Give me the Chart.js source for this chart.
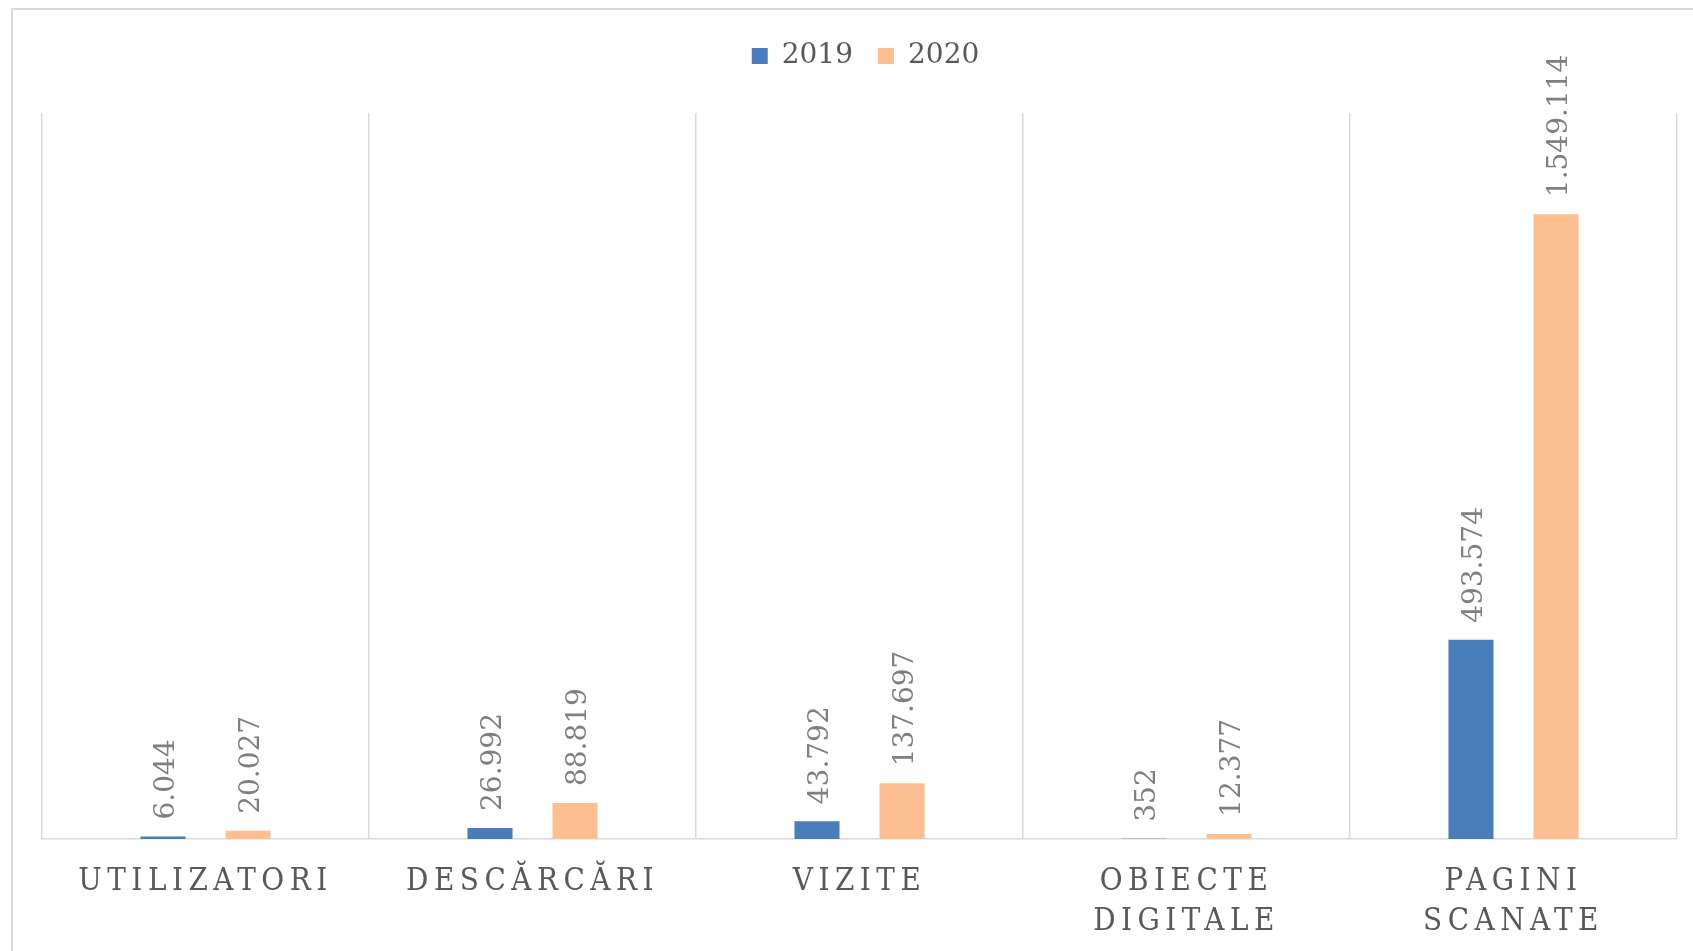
<!DOCTYPE html>
<html>
<head>
<meta charset="utf-8">
<script src="https://cdn.jsdelivr.net/npm/chart.js@4/dist/chart.umd.min.js"></script>
<style>
  html, body { margin: 0; padding: 0; background: #fff; overflow: hidden; }
  #frame {
    position: absolute; left: 11px; top: 8px;
    width: 1700px; height: 960px;
    border-left: 2px solid #d9d9d9; border-top: 2px solid #d9d9d9;
  }
  #wrap { position: absolute; left: 0; top: 0; width: 1680px; height: 961px; }
</style>
</head>
<body>
<div id="frame"><div id="wrap"><canvas id="chart"></canvas></div></div>
<script>
const categories = ['UTILIZATORI', 'DESCĂRCĂRI', 'VIZITE', ['OBIECTE', 'DIGITALE'], ['PAGINI', 'SCANATE']];
const values2019 = [6044, 26992, 43792, 352, 493574];
const values2020 = [20027, 88819, 137697, 12377, 1549114];
const seriesNames = ['2019', '2020'];

const fmt = v => v.toLocaleString('de-DE');

// rotated value labels above each bar
const barLabels = {
  id: 'barLabels',
  afterDatasetsDraw(chart) {
    const ctx = chart.ctx;
    ctx.save();
    ctx.font = '28px "DejaVu Serif"';
    ctx.fillStyle = '#7f7f7f';
    ctx.textAlign = 'left';
    ctx.textBaseline = 'middle';
    chart.data.datasets.forEach((ds, i) => {
      chart.getDatasetMeta(i).data.forEach((bar, j) => {
        ctx.save();
        ctx.translate(bar.x + 4, bar.y - 17);
        ctx.rotate(-Math.PI / 2);
        ctx.fillText(fmt(ds.data[j]), 0, 0);
        ctx.restore();
      });
    });
    ctx.restore();
  }
};

// spaced-out category labels on the x axis
const spacedTicks = {
  id: 'spacedTicks',
  beforeDraw(chart) {
    const s = chart.scales.x;
    if (s._spaced) return;
    const orig = s.drawLabels;
    s.drawLabels = function (area) {
      this.ctx.save();
      this.ctx.letterSpacing = '5.5px';
      orig.call(this, area);
      this.ctx.restore();
    };
    s._spaced = true;
  }
};

// extra gap between legend and plot, legend nudged right a little
const legendGap = {
  id: 'legendGap',
  beforeLayout(chart) {
    const lg = chart.legend;
    if (!lg || lg._gap) return;
    const fit = lg.fit;
    lg.fit = function () {
      fit.call(this);
      this.height += 33;
    };
    lg._gap = true;
  },
  afterLayout(chart) {
    const lg = chart.legend;
    if (!lg) return;
    lg.left += 6;
    lg.right += 6;
  }
};

new Chart(document.getElementById('chart'), {
  type: 'bar',
  data: {
    labels: categories,
    datasets: [
      { label: seriesNames[0], data: values2019, backgroundColor: '#4a7ebb' },
      { label: seriesNames[1], data: values2020, backgroundColor: '#fdbf8f' }
    ]
  },
  options: {
    responsive: true,
    maintainAspectRatio: false,
    animation: false,
    categoryPercentage: 0.52,
    barPercentage: 0.53,
    layout: { padding: { left: 29, right: 16, top: 7, bottom: 6 } },
    plugins: {
      tooltip: { enabled: false },
      legend: {
        position: 'top',
        labels: {
          boxWidth: 16, boxHeight: 16, padding: 25,
          color: '#595959',
          font: { family: 'DejaVu Serif', size: 28 }
        }
      }
    },
    scales: {
      x: {
        grid: { color: '#d9d9d9', lineWidth: 1.5, offset: true, drawTicks: false },
        border: { color: '#d9d9d9', width: 1.5 },
        ticks: {
          color: '#595959', padding: 24, maxRotation: 0, autoSkip: false,
          font: { family: 'DejaVu Serif Condensed', size: 31, lineHeight: 1.26 }
        }
      },
      y: { display: false, min: 0, max: 1800000 }
    }
  },
  plugins: [barLabels, spacedTicks, legendGap]
});
</script>
</body>
</html>
